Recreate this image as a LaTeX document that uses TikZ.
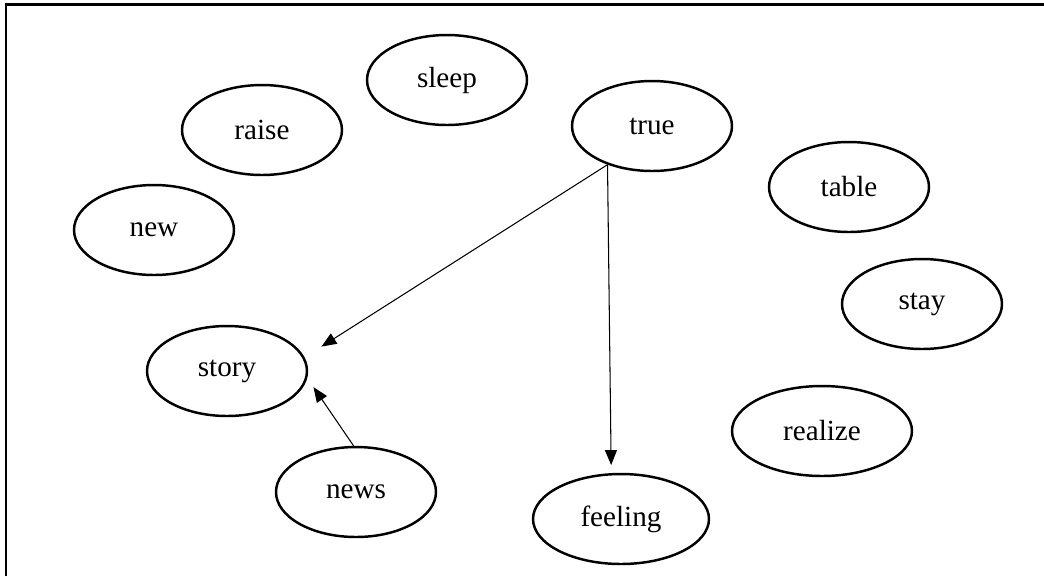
\documentclass[tikz,border=0pt]{standalone}
\usepackage{fontspec}
\setmainfont{Liberation Serif}
\usetikzlibrary{shapes.geometric,arrows.meta}
\tikzset{
  word/.style={draw, ellipse, line width=1.4pt, minimum width=3.2cm, minimum height=1.8cm,
    inner sep=0pt, font=\fontsize{16.6}{18}\selectfont},
  link/.style={line width=0.6pt, -{Triangle[length=0.3cm,width=0.24cm]}}
}

\begin{document}
\begin{tikzpicture}[x=0.02cm, y=-0.02cm]
		%%%%% START %%%%%
		\useasboundingbox (0, 0) rectangle (1044, 576);
		
		\draw[line width=1.4pt] (6, 576) -- (6, 4.5) -- (1044, 4.5);
		
		\node[word] (sleep) at (447, 80) {sleep};
		\node[word] (raise) at (262, 130) {raise};
		\node[word] (true) at (652, 126) {true};
		\node[word] (table) at (849, 187) {table};
		\node[word] (new) at (154, 230) {new};
		\node[word] (stay) at (922, 304) {stay};
		\node[word] (story) at (227, 371) {story};
		\node[word, minimum width=3.6cm] (realize) at (822, 431) {realize};
		\node[word] (news) at (356, 492) {news};
		\node[word, minimum width=3.52cm] (feeling) at (621, 519) {feeling};
		
		\draw[link, shorten >=0.4cm] (true.221) -- (story.10);
		\draw[link, shorten >=0.16cm] (true.221) -- (feeling.102);
		\draw[link, shorten >=0.22cm] (news.93) -- (story.-5);
		
		%%%%% END %%%%%
	\end{tikzpicture}
\end{document}
